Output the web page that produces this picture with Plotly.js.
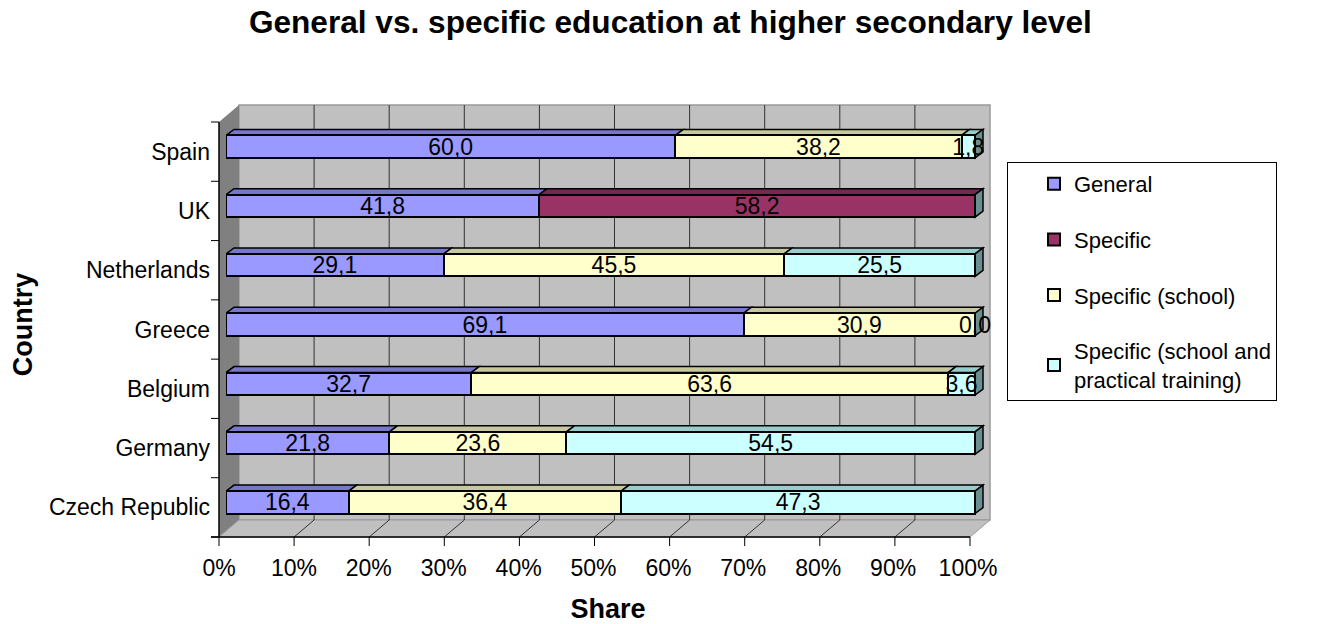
<!DOCTYPE html>
<html>
<head>
<meta charset="utf-8">
<script src="https://cdn.plot.ly/plotly-3.0.1.min.js"></script>
<style>
  html, body { margin: 0; padding: 0; background: #ffffff; }
  #chart { width: 1317px; height: 624px; }
</style>
</head>
<body>
<div id="chart"></div>
<script>
// Countries, bottom to top
const countries = ['Czech Republic', 'Germany', 'Belgium', 'Greece', 'Netherlands', 'UK', 'Spain'];

// Shares (%) per education type; null = category not reported
const general        = [16.4, 21.8, 32.7, 69.1, 29.1, 41.8, 60.0];
const specific       = [null, null, null, null, null, 58.2, null];
const specificSchool = [36.4, 23.6, 63.6, 30.9, 45.5, null, 38.2];
const specificDual   = [47.3, 54.5, 3.6, 0.0, 25.5, null, 1.8];

const xTicks = [0, 10, 20, 30, 40, 50, 60, 70, 80, 90, 100];

const FONT = 'Liberation Sans, Arial, sans-serif';
const LABEL_SIZE = 23;

// ---- frame geometry (pixels) ----
const W = 1317, H = 624;
const PL = 219, PR = 990, PT = 117, PB = 532;        // plotting rectangle
const BAR_X0 = 226, BAR_X100 = 975;                  // where 0% and 100% fall for the bars
const WALL = { fl: 219, bl: 239, br: 990, fr: 970, bt: 105, ft: 122, bb: 520, fb: 537 };
const X = px => (px - PL) / (PR - PL);
const Y = py => (PB - py) / (PB - PT);
const PX_PER_UNIT = (BAR_X100 - BAR_X0) / 100;
const X_RANGE_MAX = (PR - BAR_X0) / PX_PER_UNIT;

// bar relief
const BAR_HALF = 0.38 * ((PB - PT) / countries.length) / 2;
const DEPTH_X = 8 / PX_PER_UNIT;   // data units
const DEPTH_Y = 6;                 // pixels
const SIDE_COLOR = '#6B8E8E';

function fmt(v) { return v.toFixed(1).replace('.', ','); }
function labels(vals) { return vals.map(v => v === null ? '' : fmt(v)); }

const series = [
  { name: 'General', vals: general, color: '#9999FF', top: '#7777CC' },
  { name: 'Specific', vals: specific, color: '#993366', top: '#772850' },
  { name: 'Specific (school)', vals: specificSchool, color: '#FFFFCC', top: '#C8C8A0' },
  { name: 'Specific (school and<br>practical training)', vals: specificDual, color: '#CCFFFF', top: '#99CCCC' }
];

const data = series.map(s => ({
  type: 'bar',
  orientation: 'h',
  name: s.name,
  legendgroup: s.name,
  y: countries,
  x: s.vals,
  text: labels(s.vals),
  textposition: 'inside',
  insidetextanchor: 'middle',
  constraintext: 'none',
  textangle: 0,
  cliponaxis: false,
  textfont: { family: FONT, size: LABEL_SIZE, color: '#000000' },
  marker: { color: s.color, line: { color: '#000000', width: 2 } },
  hoverinfo: 'name+x'
}));

// Stacked (normalised) segment positions, used for relief faces and zero labels
const zeroLabels = [];
const reliefShapes = [];
countries.forEach((c, i) => {
  const total = series.reduce((a, s) => a + (s.vals[i] || 0), 0);
  let cum = 0;
  let lastEnd = null;
  series.forEach(s => {
    const v = s.vals[i];
    if (v === null) return;
    const x0 = cum / total * 100;
    const x1 = (cum + v) / total * 100;
    if (v === 0) {
      zeroLabels.push({
        xref: 'x', yref: 'y', x: x0, y: c,
        text: fmt(v), showarrow: false,
        xanchor: 'center', yanchor: 'middle',
        font: { family: FONT, size: LABEL_SIZE, color: '#000000' }
      });
    } else {
      reliefShapes.push({
        type: 'path', xref: 'x', yref: 'y', layer: 'below',
        ysizemode: 'pixel', yanchor: i,
        path: `M ${x0},${BAR_HALF} L ${x0 + DEPTH_X},${BAR_HALF + DEPTH_Y} ` +
              `L ${x1 + DEPTH_X},${BAR_HALF + DEPTH_Y} L ${x1},${BAR_HALF} Z`,
        fillcolor: s.top, line: { color: '#000000', width: 1.5 }
      });
      lastEnd = x1;
    }
    cum += v;
  });
  if (lastEnd !== null) {
    reliefShapes.push({
      type: 'path', xref: 'x', yref: 'y', layer: 'below',
      ysizemode: 'pixel', yanchor: i,
      path: `M ${lastEnd},${BAR_HALF} L ${lastEnd + DEPTH_X},${BAR_HALF + DEPTH_Y} ` +
            `L ${lastEnd + DEPTH_X},${-BAR_HALF + DEPTH_Y} L ${lastEnd},${-BAR_HALF} Z`,
      fillcolor: SIDE_COLOR, line: { color: '#000000', width: 1.5 }
    });
  }
});

// Walls, floor, gridlines and tick marks of the chart frame
const frameShapes = [];
const poly = (pts, fill, line) => ({
  type: 'path', xref: 'paper', yref: 'paper', layer: 'below',
  path: 'M ' + pts.map(p => `${X(p[0])},${Y(p[1])}`).join(' L ') + ' Z',
  fillcolor: fill, line: line || { width: 0 }
});
const seg = (x0, y0, x1, y1, color, width) => ({
  type: 'line', xref: 'paper', yref: 'paper', layer: 'below',
  x0: X(x0), y0: Y(y0), x1: X(x1), y1: Y(y1),
  line: { color: color, width: width || 1 }
});
// back wall
frameShapes.push(poly([[WALL.bl, WALL.bt], [WALL.br, WALL.bt], [WALL.br, WALL.bb], [WALL.bl, WALL.bb]],
  '#C0C0C0', { color: '#9A9A9A', width: 1.5 }));
// left wall
frameShapes.push(poly([[WALL.fl, WALL.ft], [WALL.bl, WALL.bt], [WALL.bl, WALL.bb], [WALL.fl, WALL.fb]], '#808080'));
// floor
frameShapes.push(poly([[WALL.fl, WALL.fb], [WALL.bl, WALL.bb], [WALL.br, WALL.bb], [WALL.fr, WALL.fb]],
  '#C0C0C0', { color: '#9A9A9A', width: 1 }));
// value gridlines on the back wall and across the floor, tick marks on the front edge
xTicks.forEach(t => {
  const back = WALL.bl + (WALL.br - WALL.bl) * t / 100;
  const front = WALL.fl + (WALL.fr - WALL.fl) * t / 100;
  if (t > 0 && t < 100) {
    frameShapes.push(seg(back, WALL.bt, back, WALL.bb, '#333333', 1));
    frameShapes.push(seg(front, WALL.fb, back, WALL.bb, '#333333', 1));
  }
  frameShapes.push(seg(front, WALL.fb, front, WALL.fb + 9, '#000000', 1));
});
// category tick marks on the front edge of the left wall
for (let k = 0; k <= countries.length; k++) {
  const y = WALL.ft + (WALL.fb - WALL.ft) * k / countries.length;
  frameShapes.push(seg(WALL.fl - 8, y, WALL.fl, y, '#000000', 1));
}
// axis lines
frameShapes.push(seg(WALL.fl, WALL.ft, WALL.fl, WALL.fb, '#000000', 1.5));
frameShapes.push(seg(WALL.fl - 8, WALL.fb, WALL.fr, WALL.fb, '#000000', 1.5));

const layout = {
  width: W,
  height: H,
  margin: { l: PL, r: W - PR, t: PT, b: H - PB },
  paper_bgcolor: '#ffffff',
  plot_bgcolor: 'rgba(0,0,0,0)',
  font: { family: FONT, size: 22, color: '#000000' },
  barmode: 'stack',
  barnorm: 'percent',
  bargap: 0.62,
  title: {
    text: '<b>General vs. specific education at higher secondary level</b>',
    font: { family: FONT, size: 31.6, color: '#000000' },
    xref: 'container', yref: 'container',
    x: 0.509, xanchor: 'center',
    y: 0.965, yanchor: 'middle'
  },
  xaxis: {
    domain: [X(BAR_X0), 1],
    range: [0, X_RANGE_MAX],
    tickvals: xTicks,
    ticktext: xTicks.map(t => t + '%'),
    ticks: 'outside',
    ticklen: 4,
    tickcolor: 'rgba(0,0,0,0)',
    ticklabelstandoff: 11,
    ticklabelshift: -7,
    showgrid: false,
    zeroline: false,
    showline: false,
    fixedrange: true,
    tickfont: { family: FONT, size: LABEL_SIZE },
    title: { text: '<b>Share</b>', font: { family: FONT, size: 27 }, standoff: 32 }
  },
  yaxis: {
    type: 'category',
    categoryorder: 'array',
    categoryarray: countries,
    anchor: 'free',
    position: 0,
    ticks: '',
    ticklabelstandoff: 9,
    ticklabelshift: 5,
    showgrid: false,
    zeroline: false,
    showline: false,
    fixedrange: true,
    tickfont: { family: FONT, size: LABEL_SIZE },
    title: { text: '<b>Country</b>', font: { family: FONT, size: 27 }, standoff: 7 }
  },
  legend: {
    x: X(1007), xanchor: 'left',
    y: Y(162), yanchor: 'top',
    bgcolor: '#ffffff',
    bordercolor: '#000000',
    borderwidth: 1,
    indentation: 26,
    traceorder: 'grouped',
    tracegroupgap: 24,
    font: { family: FONT, size: 22, color: '#000000' }
  },
  annotations: zeroLabels,
  shapes: frameShapes.concat(reliefShapes)
};

Plotly.newPlot('chart', data, layout, { displayModeBar: false, staticPlot: true });
</script>
</body>
</html>
